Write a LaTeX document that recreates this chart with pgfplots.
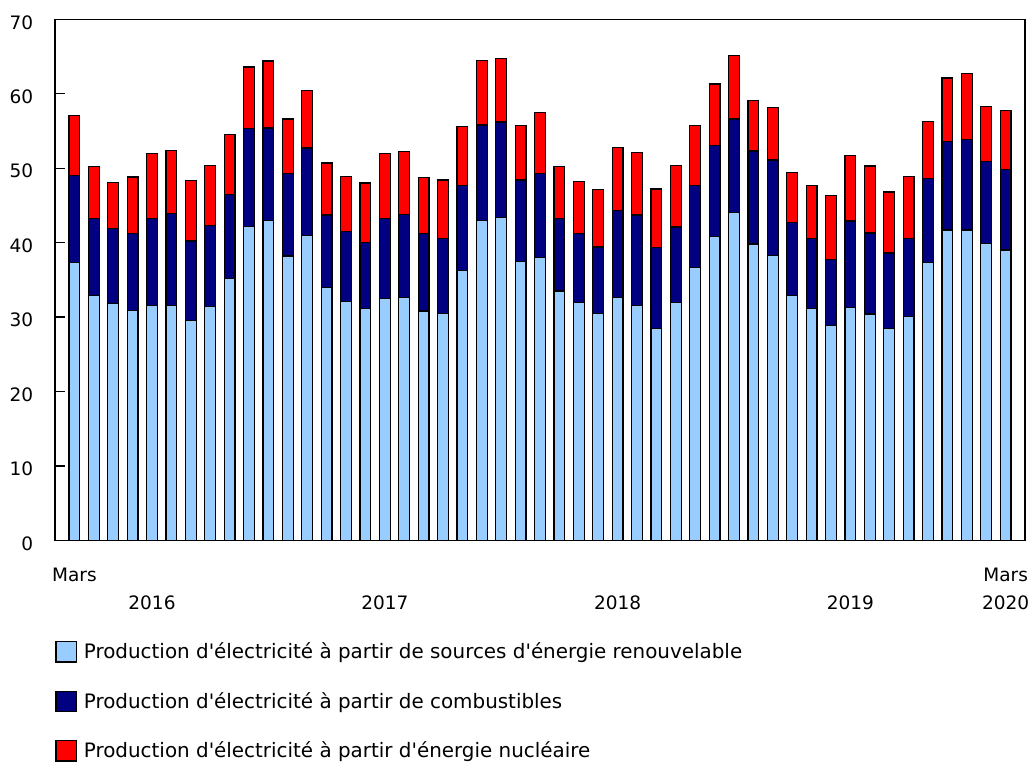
\documentclass[border=0pt]{standalone}
\usepackage{fontspec}
\setmainfont{DejaVu Sans}
\usepackage{pgfplots}
\usepackage{pgfplotstable}
\pgfplotsset{compat=1.18}
\definecolor{renew}{HTML}{99CCFF}
\definecolor{fuel}{HTML}{000080}
\definecolor{nuc}{HTML}{FF0000}
\newcommand\q{\textquotesingle}

\pgfplotstableread{
x ren fuel nuc
0 37.3 11.7 8.1
1 32.9 10.3 7.0
2 31.8 10.1 6.2
3 30.9 10.3 7.6
4 31.5 11.7 8.8
5 31.5 12.4 8.5
6 29.5 10.7 8.1
7 31.4 10.9 8.1
8 35.2 11.3 8.0
9 42.2 13.1 8.3
10 43.0 12.4 9.0
11 38.2 11.1 7.3
12 41.0 11.7 7.7
13 34.0 9.7 7.0
14 32.1 9.4 7.4
15 31.1 8.9 8.0
16 32.5 10.7 8.8
17 32.6 11.2 8.4
18 30.8 10.4 7.5
19 30.5 10.0 7.9
20 36.2 11.5 7.9
21 43.0 12.8 8.7
22 43.4 12.8 8.5
23 37.5 10.9 7.3
24 38.0 11.3 8.2
25 33.5 9.7 7.0
26 32.0 9.2 7.0
27 30.5 8.9 7.7
28 32.6 11.7 8.5
29 31.6 12.1 8.4
30 28.5 10.8 7.9
31 32.0 10.1 8.3
32 36.6 11.1 8.0
33 40.8 12.2 8.3
34 44.0 12.6 8.5
35 39.8 12.5 6.8
36 38.3 12.8 7.0
37 32.9 9.8 6.7
38 31.1 9.4 7.2
39 28.9 8.8 8.6
40 31.3 11.6 8.8
41 30.4 10.9 9.0
42 28.5 10.1 8.2
43 30.1 10.4 8.4
44 37.3 11.3 7.7
45 41.7 11.9 8.5
46 41.7 12.1 8.9
47 39.9 11.0 7.4
48 39.0 10.8 7.9
}\datatable

\begin{document}
\begin{tikzpicture}
\begin{axis}[
  width=485pt, height=260.5pt, scale only axis,
  xmin=-1, xmax=49, ymin=0, ymax=70,
  ybar stacked, bar width=5.35pt,
  axis line style={line width=0.65pt},
  ytick={0,10,...,70},
  ytick pos=left, tick align=inside, major tick length=5pt,
  y tick style={line width=0.65pt, black},
  /pgf/number format/assume math mode=true,
  tick label style={font=\fontsize{9.25pt}{11pt}\selectfont},
  yticklabel style={anchor=east, inner sep=0pt, xshift=-10.75pt, yshift=-1.5pt},
  xtick={0,48}, xticklabels={Mars,Mars},
  x tick style={draw=none},
  xticklabel style={anchor=base, inner sep=0pt, yshift=-20.75pt},
  extra x ticks={4,16,28,40,48},
  extra x tick labels={2016,2017,2018,2019,2020},
  extra x tick style={tick style={draw=none}, tick label style={yshift=-14pt}},
  legend style={at={(axis description cs:0,0)}, anchor=north west, yshift=-49pt,
    draw=none, fill=none, inner sep=0pt, row sep=11.3pt,
    font=\fontsize{9.95pt}{12pt}\selectfont,
    /tikz/every even column/.append style={column sep=0pt}},
  legend cell align=left,
  legend image code/.code={\draw[#1,draw=black,line width=0.7pt] (0pt,-5pt) rectangle (10.2pt,5.2pt); \path (11.6pt,0pt);},
  every axis plot/.append style={draw=black, line width=0.6pt},
]
\addplot[fill=renew] table[x=x,y=ren]{\datatable};
\addlegendentry{Production d\q électricité à partir de sources d\q énergie renouvelable}
\addplot[fill=fuel] table[x=x,y=fuel]{\datatable};
\addlegendentry{Production d\q électricité à partir de combustibles}
\addplot[fill=nuc] table[x=x,y=nuc]{\datatable};
\addlegendentry{Production d\q électricité à partir d\q énergie nucléaire}
\end{axis}
\path ([xshift=-27.5pt,yshift=-109.75pt]current axis.south west) rectangle ([xshift=4pt,yshift=9.65pt]current axis.north east);
\end{tikzpicture}
\end{document}
